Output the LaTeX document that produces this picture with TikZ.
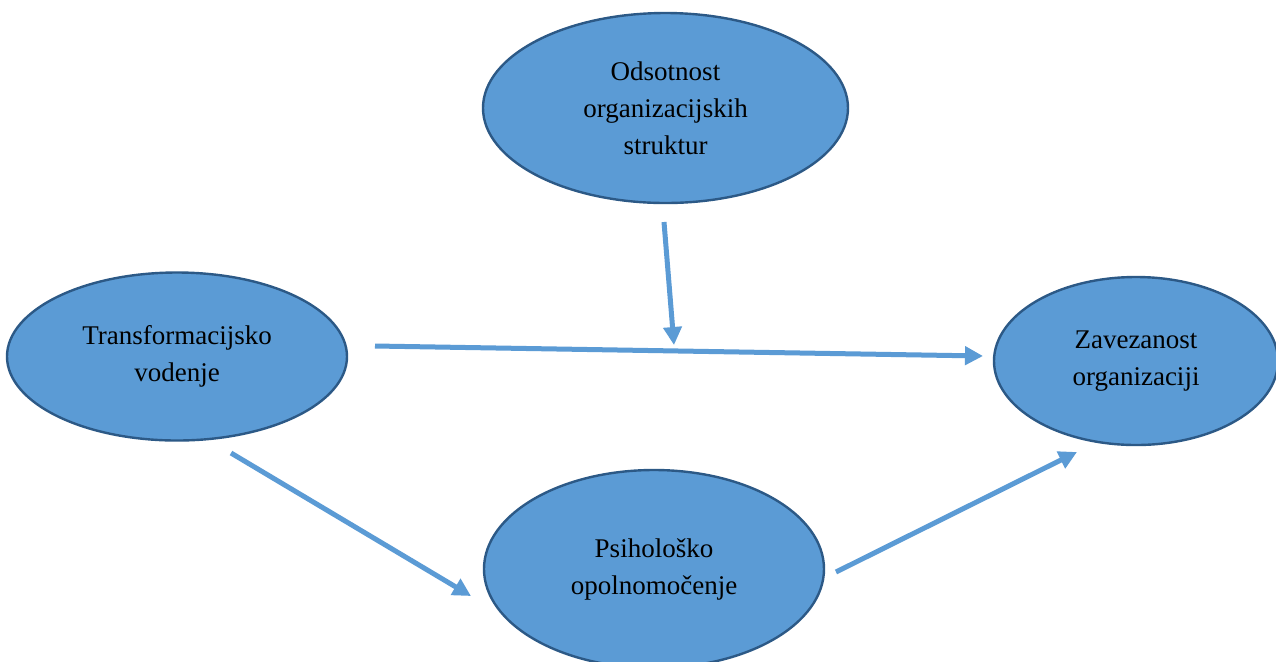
\documentclass[tikz,border=0pt]{standalone}
\usepackage{fontspec}
\setmainfont{Liberation Serif}
\usetikzlibrary{shapes.geometric,arrows.meta}
\definecolor{bubble}{HTML}{5B9BD5}
\definecolor{rim}{HTML}{2C5986}
\definecolor{link}{HTML}{5B9BD5}
\tikzset{
  bubble/.style={ellipse, draw=rim, line width=1.2pt, fill=bubble, inner sep=0pt,
    align=center, font=\fontsize{13.5}{18.5}\selectfont, text=black},
  link/.style={draw=link, line width=2.5pt, -{Triangle[length=9pt,width=9pt]}}
}
\begin{document}
\begin{tikzpicture}[x=0.5pt,y=-0.5pt]
  \clip (0,0) rectangle (1276,661);
  \fill[white] (0,0) rectangle (1276,661);
  % the four concepts
  \node[bubble, minimum width=182.5pt, minimum height=95pt] (ods) at (665.5,108)
    {Odsotnost\\organizacijskih\\struktur};
  \node[bubble, minimum width=170pt, minimum height=84pt] (tra) at (177,356.5)
    {Transformacijsko\\vodenje};
  \node[bubble, minimum width=142pt, minimum height=84pt] (zav) at (1136,361)
    {Zavezanost\\organizaciji};
  \node[bubble, minimum width=170pt, minimum height=99pt] (psi) at (654,569)
    {Psihološko\\opolnomočenje};
  % free ends of the arrows
  \coordinate (a1s) at (664,222);  \coordinate (a1e) at (674,345);
  \coordinate (a2s) at (375,346);  \coordinate (a2e) at (983,356);
  \coordinate (a3s) at (231,453);  \coordinate (a3e) at (471,596);
  \coordinate (a4s) at (836,572);  \coordinate (a4e) at (1077,452);
  \draw[link] (a1s) -- (a1e);
  \draw[link] (a2s) -- (a2e);
  \draw[link] (a3s) -- (a3e);
  \draw[link] (a4s) -- (a4e);
\end{tikzpicture}
\end{document}
